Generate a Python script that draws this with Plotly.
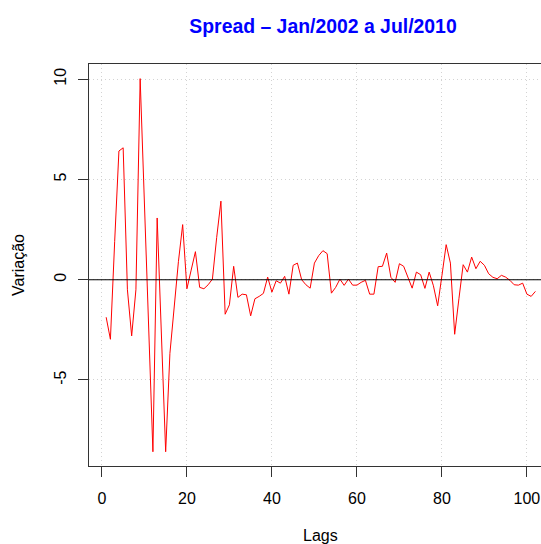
import plotly.graph_objects as go

lags = list(range(1, 103))
variacao = [
    -1.87, -2.97, 1.9, 6.42, 6.58, -0.5, -2.8, -0.5, 10.03, 3.8,
    -2.4, -8.58, 3.08, -2.75, -8.58, -3.67, -1.4, 0.9, 2.75, -0.45,
    0.48, 1.4, -0.38, -0.45, -0.25, 0.03, 2.1, 3.92, -1.72, -1.25,
    0.67, -0.88, -0.72, -0.75, -1.8, -0.95, -0.83, -0.68, 0.13, -0.62,
    -0.05, -0.17, 0.17, -0.72, 0.72, 0.83, 0.0, -0.25, -0.42, 0.83,
    1.2, 1.45, 1.3, -0.67, -0.38, 0.03, -0.28, 0.03, -0.27, -0.27,
    -0.13, -0.03, -0.72, -0.72, 0.65, 0.67, 1.33, 0.12, -0.13, 0.8,
    0.67, 0.13, -0.42, 0.38, 0.25, -0.43, 0.38, -0.3, -1.3, 0.2,
    1.75, 0.83, -2.72, -0.95, 0.75, 0.38, 1.13, 0.55, 0.92, 0.72,
    0.3, 0.12, 0.05, 0.22, 0.13, -0.03, -0.25, -0.27, -0.17, -0.72,
    -0.83, -0.58,
]
x_ticks = [0, 20, 40, 60, 80, 100]
y_ticks = [-5, 0, 5, 10]
title_text = "Spread \u2013 Jan/2002 a Jul/2010"
x_label = "Lags"
y_label = "Varia\u00e7\u00e3o"

FONT = "Liberation Sans, Arial, Helvetica, sans-serif"
W, H = 541, 544
ML, MT, MB = 89, 64, 78
plot_w = W - ML
plot_h = H - MT - MB

fig = go.Figure()
fig.add_trace(go.Scatter(
    x=lags, y=variacao, mode="lines",
    line=dict(color="#FF0000", width=1),
    showlegend=False, hoverinfo="x+y",
))

fig.add_hline(y=0, line=dict(color="black", width=1.2))

xmin = -3.04
xmax = xmin + plot_w / 4.25
fig.update_layout(
    width=W, height=H,
    margin=dict(l=ML, r=0, t=MT, b=MB, pad=0),
    paper_bgcolor="white", plot_bgcolor="white",
    font=dict(family=FONT, size=16, color="black"),
    title=dict(
        text="<b>" + title_text + "</b>",
        font=dict(family=FONT, size=19.4, color="#0000FF"),
        x=(323 - ML) / plot_w, xanchor="center", xref="paper",
        y=1 - 26 / H, yanchor="middle", yref="container",
    ),
    xaxis=dict(
        range=[xmin, xmax], tickvals=x_ticks, ticktext=[str(v) for v in x_ticks],
        showgrid=True, gridcolor="#D3D3D3", griddash="1px,3px", gridwidth=1,
        zeroline=False, showline=True, linecolor="#333333", linewidth=1.2,
        mirror=True, ticks="outside", ticklen=10, tickcolor="#333333",
        tickfont=dict(family=FONT, size=16), ticklabelstandoff=8,
    ),
    yaxis=dict(
        range=[-9.29, 10.76], tickvals=y_ticks, ticktext=[str(v) for v in y_ticks],
        showgrid=True, gridcolor="#D3D3D3", griddash="1px,3px", gridwidth=1,
        zeroline=False, showline=True, linecolor="#333333", linewidth=1.2,
        ticks="outside", ticklen=10, tickcolor="#333333", tickangle=-90,
        tickfont=dict(family=FONT, size=16), ticklabelstandoff=6,
    ),
    annotations=[
        dict(text=x_label, xref="paper", yref="paper",
             x=(320.5 - ML) / plot_w, y=(H - MB - 535) / plot_h,
             xanchor="center", yanchor="middle", showarrow=False,
             font=dict(family=FONT, size=16, color="black")),
        dict(text=y_label, xref="paper", yref="paper",
             x=(18 - ML) / plot_w, y=(H - MB - 265) / plot_h,
             xanchor="center", yanchor="middle", showarrow=False,
             textangle=-90,
             font=dict(family=FONT, size=16, color="black")),
    ],
)

fig.write_html("out.html")
